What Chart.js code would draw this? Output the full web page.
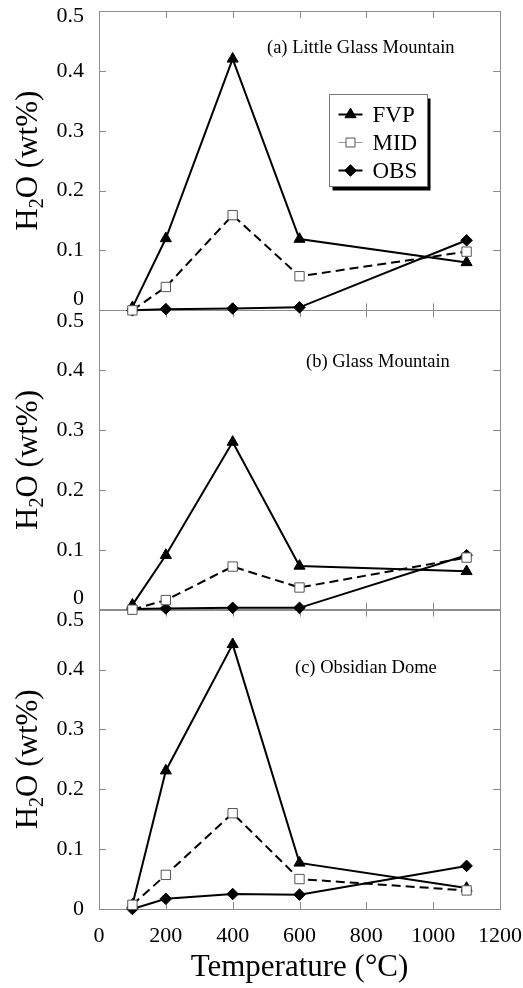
<!DOCTYPE html>
<html>
<head>
<meta charset="utf-8">
<script src="https://cdn.jsdelivr.net/npm/chart.js@4.4.0/dist/chart.umd.min.js"></script>
<style>
    html, body { margin: 0; padding: 0; background: #fff; }
    #wrap { width: 523px; height: 988px; }
</style>
</head>
<body>
<div id="wrap"><canvas id="chart" width="523" height="988"></canvas></div>
<script>
// Heating temperatures (°C)
const temperatures = [100, 200, 400, 600, 1100];

// (a) Little Glass Mountain
const lgmFVP = [0.005, 0.120, 0.420, 0.119, 0.080];
const lgmMID = [0.000, 0.039, 0.159, 0.057, 0.098];
const lgmOBS = [0.000, 0.002, 0.003, 0.005, 0.117];

// (b) Glass Mountain
const gmFVP = [0.008, 0.091, 0.280, 0.073, 0.064];
const gmMID = [0.000, 0.016, 0.072, 0.037, 0.087];
const gmOBS = [0.001, 0.002, 0.003, 0.003, 0.091];

// (c) Obsidian Dome
const odFVP = [0.007, 0.231, 0.442, 0.077, 0.035];
const odMID = [0.007, 0.057, 0.160, 0.050, 0.031];
const odOBS = [0.000, 0.017, 0.025, 0.024, 0.072];

const panelTitles = ['(a) Little Glass Mountain', '(b) Glass Mountain', '(c) Obsidian Dome'];
const seriesNames = ['FVP', 'MID', 'OBS'];
const panelIds = ['yA', 'yB', 'yC'];

const FONT = 'Liberation Serif';
const FRAME = '#8c8c8c';

// Line/marker style per series
const seriesStyle = {
    FVP: { pointStyle: 'triangle', pointRadius: 6.4, pointBackgroundColor: '#000', pointBorderColor: '#000', borderDash: [] },
    MID: { pointStyle: 'rect', pointRadius: 6.6, pointBackgroundColor: '#fff', pointBorderColor: '#555', borderDash: [9, 5] },
    OBS: { pointStyle: 'rectRot', pointRadius: 5.8, pointBackgroundColor: '#000', pointBorderColor: '#000', borderDash: [] }
};

function makeDataset(name, values, axisId) {
    const s = seriesStyle[name];
    return {
        label: name,
        data: temperatures.map((t, i) => ({ x: t, y: values[i] })),
        yAxisID: axisId,
        borderColor: '#000',
        borderWidth: 2,
        borderDash: s.borderDash,
        pointStyle: s.pointStyle,
        pointRadius: s.pointRadius,
        pointBackgroundColor: s.pointBackgroundColor,
        pointBorderColor: s.pointBorderColor,
        pointBorderWidth: 1,
        tension: 0,
        fill: false,
        clip: false
    };
}

const datasets = [
    makeDataset('MID', lgmMID, 'yA'), makeDataset('FVP', lgmFVP, 'yA'), makeDataset('OBS', lgmOBS, 'yA'),
    makeDataset('MID', gmMID, 'yB'), makeDataset('FVP', gmFVP, 'yB'), makeDataset('OBS', gmOBS, 'yB'),
    makeDataset('MID', odMID, 'yC'), makeDataset('FVP', odFVP, 'yC'), makeDataset('OBS', odOBS, 'yC')
];

function near(a, b) { return Math.abs(a - b) < 1e-6; }

// One stacked y axis per panel
function panelAxis(isTop, isBottom) {
    return {
        type: 'linear',
        position: 'left',
        stack: 'panels',
        stackWeight: 1,
        min: 0,
        max: 0.5,
        grid: { display: false, drawTicks: false },
        border: { display: false },
        ticks: {
            stepSize: 0.1,
            autoSkip: false,
            padding: 15,
            color: '#000',
            font: function (c) {
                const v = c.tick ? c.tick.value : 0;
                return { family: FONT, size: 22, lineHeight: (isTop && near(v, 0.5)) ? 0.5 : 1 };
            },
            callback: function (value) {
                const txt = String(Number(value.toFixed(1)));
                if (near(value, 0) && !isBottom) return [txt, ''];
                if (near(value, 0.5)) return ['', txt];
                return txt;
            }
        },
        title: { display: false },
        afterFit: function (scale) {
            scale.width = 99;
            scale.paddingTop = 0;
            scale.paddingBottom = 0;
        }
    };
}

// rotated y title with a real subscript
function drawYTitle(ctx, cx, cy) {
    const big = '31px "' + FONT + '"';
    const small = '20px "' + FONT + '"';
    ctx.font = big;
    const wH = ctx.measureText('H').width;
    const wRest = ctx.measureText('O (wt%)').width;
    ctx.font = small;
    const w2 = ctx.measureText('2').width;
    const total = wH + w2 + wRest;
    ctx.save();
    ctx.translate(cx, cy);
    ctx.rotate(-Math.PI / 2);
    ctx.fillStyle = '#000';
    ctx.textAlign = 'left';
    ctx.textBaseline = 'alphabetic';
    let px = -total / 2;
    ctx.font = big;
    ctx.fillText('H', px, 10);
    px += wH;
    ctx.font = small;
    ctx.fillText('2', px, 16);
    px += w2;
    ctx.font = big;
    ctx.fillText('O (wt%)', px, 10);
    ctx.restore();
}

const panelPlugin = {
    id: 'panels',
    beforeDatasetsDraw(chart) {
        const ctx = chart.ctx;
        const x = chart.scales.x;
        ctx.save();
        ctx.strokeStyle = FRAME;
        ctx.lineWidth = 1;
        panelIds.forEach(id => {
            const y = chart.scales[id];
            ctx.strokeRect(Math.round(x.left) + 0.5, Math.round(y.top) + 0.5,
                Math.round(x.right - x.left), Math.round(y.bottom - y.top));
            ctx.beginPath();
            y.ticks.forEach(t => {
                if (t.value <= 0.001 || t.value >= 0.499) return;
                const py = Math.round(y.getPixelForValue(t.value)) + 0.5;
                ctx.moveTo(x.left, py); ctx.lineTo(x.left + 7, py);
                ctx.moveTo(x.right, py); ctx.lineTo(x.right - 7, py);
            });
            x.ticks.forEach(t => {
                if (t.value <= 0 || t.value >= 1200) return;
                const px = Math.round(x.getPixelForValue(t.value)) + 0.5;
                ctx.moveTo(px, y.top); ctx.lineTo(px, y.top + 7);
                ctx.moveTo(px, y.bottom); ctx.lineTo(px, y.bottom - 7);
            });
            ctx.stroke();
        });
        ctx.restore();
    },
    afterDraw(chart) {
        const ctx = chart.ctx;
        ctx.save();

        // y titles, one per panel
        panelIds.forEach(id => {
            const y = chart.scales[id];
            drawYTitle(ctx, 27, (y.top + y.bottom) / 2);
        });

        // panel captions
        ctx.fillStyle = '#000';
        ctx.font = '18.5px "' + FONT + '"';
        ctx.textBaseline = 'middle';
        ctx.textAlign = 'left';
        const capPos = [[267, 37], [306, 52], [295, 58]];
        panelIds.forEach((id, i) => {
            const y = chart.scales[id];
            ctx.fillText(panelTitles[i], capPos[i][0], y.top + capPos[i][1]);
        });

        // legend box in panel (a)
        const yA = chart.scales.yA;
        const bx = 329.5, by = yA.top + 83.5, bw = 98, bh = 92;
        ctx.fillStyle = '#000';
        ctx.fillRect(bx + 3, by + 4, bw, bh);
        ctx.fillStyle = '#fff';
        ctx.fillRect(bx, by, bw, bh);
        ctx.strokeStyle = '#777';
        ctx.lineWidth = 1;
        ctx.strokeRect(bx, by, bw, bh);

        ctx.font = '23px "' + FONT + '"';
        seriesNames.forEach((name, i) => {
            const ly = by + 20 + i * 28;
            const s = seriesStyle[name];
            ctx.beginPath();
            if (name === 'MID') { ctx.strokeStyle = '#999'; ctx.lineWidth = 1; }
            else { ctx.strokeStyle = '#000'; ctx.lineWidth = 2; }
            ctx.moveTo(bx + 9, ly); ctx.lineTo(bx + 33, ly);
            ctx.stroke();
            ctx.fillStyle = s.pointBackgroundColor;
            ctx.strokeStyle = s.pointBorderColor;
            ctx.lineWidth = 1;
            ctx.beginPath();
            const cx = bx + 21;
            if (name === 'FVP') {
                const r = s.pointRadius;
                ctx.moveTo(cx, ly - r);
                ctx.lineTo(cx + r * 0.866, ly + r / 2);
                ctx.lineTo(cx - r * 0.866, ly + r / 2);
                ctx.closePath();
            } else if (name === 'MID') {
                ctx.rect(cx - 4.5, ly - 4.5, 9, 9);
            } else {
                const r = s.pointRadius;
                ctx.moveTo(cx, ly - r); ctx.lineTo(cx + r, ly);
                ctx.lineTo(cx, ly + r); ctx.lineTo(cx - r, ly);
                ctx.closePath();
            }
            ctx.fill();
            ctx.stroke();
            ctx.fillStyle = '#000';
            ctx.fillText(name, bx + 43, ly + 1);
        });
        ctx.restore();
    }
};

new Chart(document.getElementById('chart'), {
    type: 'line',
    data: { datasets: datasets },
    options: {
        responsive: false,
        animation: false,
        layout: { padding: { top: 11, right: 23, left: 0, bottom: 0 } },
        plugins: {
            legend: { display: false },
            tooltip: { enabled: false }
        },
        scales: {
            x: {
                type: 'linear',
                min: 0,
                max: 1200,
                grid: { display: false, drawTicks: false },
                border: { display: false },
                ticks: {
                    stepSize: 200,
                    padding: 14,
                    maxRotation: 0,
                    autoSkip: false,
                    color: '#000',
                    font: { family: FONT, size: 22 },
                    callback: function (value) { return String(value); }
                },
                title: {
                    display: true,
                    text: 'Temperature (°C)',
                    color: '#000',
                    font: { family: FONT, size: 31 },
                    padding: { top: 0, bottom: 2 }
                },
                afterFit: function (scale) {
                    scale.height = 79;
                    scale.paddingLeft = 0;
                    scale.paddingRight = 0;
                }
            },
            yC: panelAxis(false, true),
            yB: panelAxis(false, false),
            yA: panelAxis(true, false)
        }
    },
    plugins: [panelPlugin]
});
</script>
</body>
</html>
